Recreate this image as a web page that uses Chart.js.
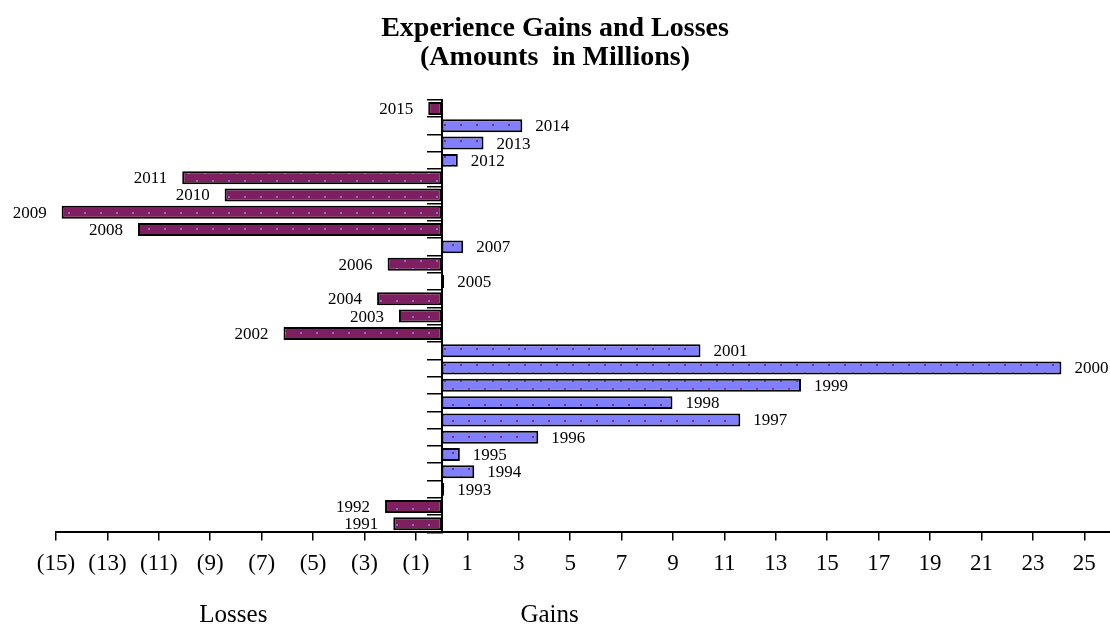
<!DOCTYPE html>
<html>
<head>
<meta charset="utf-8">
<script src="https://cdn.jsdelivr.net/npm/chart.js@4.4.1/dist/chart.umd.min.js"></script>
<style>
  html, body { margin: 0; padding: 0; background: #ffffff; }
  #wrap { width: 1110px; height: 625px; position: relative; }
</style>
</head>
<body>
<div id="wrap"><canvas id="chart" width="1110" height="625"></canvas></div>
<script>
// Plan years, bottom to top
const years = [1991, 1992, 1993, 1994, 1995, 1996, 1997, 1998, 1999, 2000, 2001, 2002, 2003,
               2004, 2005, 2006, 2007, 2008, 2009, 2010, 2011, 2012, 2013, 2014, 2015];
// Experience gain (+) or loss (-), $ millions
const amounts = [-1.88, -2.2, 0.1, 1.27, 0.71, 3.76, 11.62, 8.98, 13.98, 24.11, 10.07, -6.15, -1.66,
                 -2.51, 0.1, -2.1, 0.84, -11.81, -14.78, -8.44, -10.09, 0.63, 1.63, 3.14, -0.52];
// Values marked on the horizontal axis
const axisTicks = [-15, -13, -11, -9, -7, -5, -3, -1, 1, 3, 5, 7, 9, 11, 13, 15, 17, 19, 21, 23, 25];
const chartTitle = ['Experience Gains and Losses', '(Amounts  in Millions)'];
const sideLabels = ['Losses', 'Gains'];

const SERIF = '"Liberation Serif", "Times New Roman", Times, serif';
const GAIN_FILL = '#8080ff';
const LOSS_FILL = '#7f1f5f';

// Dotted fill: a base colour with small dots of the other series' colour
function dottedFill(base, dot) {
  const tile = document.createElement('canvas');
  tile.width = 16; tile.height = 16;
  const g = tile.getContext('2d');
  g.fillStyle = base;
  g.fillRect(0, 0, 16, 16);
  g.fillStyle = dot;
  g.globalAlpha = 0.85;
  g.fillRect(4, 4, 2, 2);
  g.fillRect(12, 12, 2, 2);
  return g.createPattern(tile, 'repeat');
}
const gainPattern = dottedFill(GAIN_FILL, LOSS_FILL);
const lossPattern = dottedFill(LOSS_FILL, GAIN_FILL);

const fmtTick = v => (v < 0 ? '(' + Math.abs(v) + ')' : String(v));

// Year printed just beyond the end of each bar
const yearLabels = {
  id: 'yearLabels',
  afterDatasetsDraw(chart) {
    const ctx = chart.ctx;
    const meta = chart.getDatasetMeta(0);
    ctx.save();
    ctx.font = '17px ' + SERIF;
    ctx.fillStyle = '#000';
    ctx.textBaseline = 'middle';
    meta.data.forEach((bar, i) => {
      const v = amounts[i];
      if (v >= 0) {
        ctx.textAlign = 'left';
        ctx.fillText(String(years[i]), bar.x + 13, bar.y + 1);
      } else {
        ctx.textAlign = 'right';
        ctx.fillText(String(years[i]), bar.x - 15, bar.y + 1);
      }
    });
    ctx.restore();
  }
};

// "Losses" / "Gains" captions under the value axis
const sideCaptions = {
  id: 'sideCaptions',
  afterDraw(chart) {
    const ctx = chart.ctx;
    const xs = chart.scales.x;
    ctx.save();
    ctx.font = '25px ' + SERIF;
    ctx.fillStyle = '#000';
    ctx.textBaseline = 'alphabetic';
    ctx.textAlign = 'center';
    ctx.fillText(sideLabels[0], xs.getPixelForValue(-8.1), 622);
    ctx.fillText(sideLabels[1], xs.getPixelForValue(4.2), 622);
    ctx.restore();
  }
};

new Chart(document.getElementById('chart'), {
  type: 'bar',
  data: {
    labels: years.map(String),
    datasets: [{
      data: amounts,
      backgroundColor: ctx => (amounts[ctx.dataIndex] >= 0 ? gainPattern : lossPattern),
      borderColor: '#000000',
      borderWidth: 2,
      borderSkipped: false,
      barPercentage: 0.75,
      categoryPercentage: 1.0
    }]
  },
  options: {
    indexAxis: 'y',
    responsive: false,
    animation: false,
    devicePixelRatio: 1,
    layout: { padding: { left: 0, right: 0, top: 0, bottom: 37 } },
    plugins: {
      legend: { display: false },
      tooltip: { enabled: false },
      title: {
        display: true,
        text: chartTitle,
        color: '#000',
        font: { family: SERIF, size: 28, weight: 'bold', lineHeight: 1.05 },
        padding: { top: 14, bottom: 27 }
      }
    },
    scales: {
      x: {
        type: 'linear',
        position: 'bottom',
        min: -15,
        max: 26,
        afterBuildTicks: scale => { scale.ticks = axisTicks.map(v => ({ value: v })); },
        // keep the plot starting at the same left edge regardless of label width
        afterFit: scale => { scale.paddingLeft = 56; },
        ticks: {
          autoSkip: false,
          maxRotation: 0,
          color: '#000',
          font: { family: SERIF, size: 23 },
          padding: 10,
          callback: v => fmtTick(v)
        },
        grid: { drawOnChartArea: false, drawTicks: true, tickLength: 8, color: '#000', lineWidth: 1.5 },
        border: { display: true, color: '#000', width: 2 }
      },
      y: {
        type: 'category',
        reverse: true,
        position: { x: 0 },
        offset: true,
        ticks: { display: false },
        grid: { offset: true, drawOnChartArea: false, drawTicks: true, tickLength: 14, color: '#000', lineWidth: 1.5 },
        border: { display: true, color: '#000', width: 2 }
      }
    }
  },
  plugins: [yearLabels, sideCaptions]
});
</script>
</body>
</html>
